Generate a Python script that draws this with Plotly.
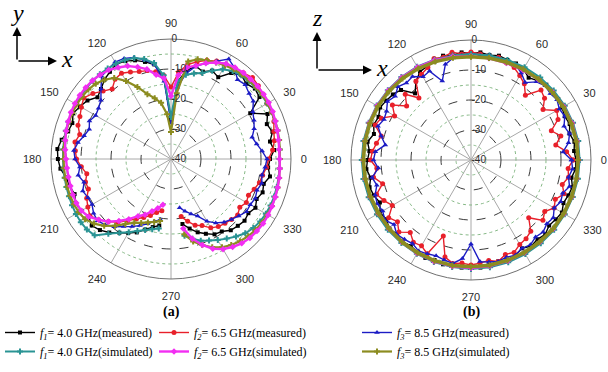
import plotly.graph_objects as go

# ---------------- data ----------------
# chart (a): angles run 280..355 then 0..260 (gap around 270 deg)
THETA_A = list(range(280, 360, 5)) + list(range(0, 265, 5))
# chart (b): measured every 5 deg, simulated every 10 deg (closed loops)
THETA_B = list(range(0, 360, 5))
THETA_B_SIM = list(range(0, 360, 10))

ANGLE_TICKS = [0, 30, 60, 90, 120, 150, 180, 210, 240, 270, 300, 330]
R_TICKS = [-40, -30, -20, -10, 0]
R_MINOR = [-35, -25, -15, -5]

# ---- (a) xy-plane ----
A_F1_MEAS = [-18.0, -16.0, -14.0, -12.5, -11.0, -10.5, -9.0, -8.5, -8.0, -8.5, -7.5, -8.5, -7.5, -8.0, -6.5, -7.5,
             -7.0, -5.5, -6.5, -5.0, -6.0, -4.5, -9.5, -4.0, -3.5, -4.5,
             -3.5, -5.0, -8.5, -7.5, -9.0, -8.0, -10.0, -14.0, -27.0, -13.0,
             -8.0, -6.5, -5.0, -4.0, -3.5, -4.5, -5.5, -7.0, -8.0, -6.0,
             -5.0, -4.0, -5.0, -4.5, -3.0, -2.0, -2.3, -3.0, -4.5, -5.0,
             -5.8, -5.0, -5.5, -6.5, -5.5, -6.5, -8.0, -10.0, -11.5, -13.0,
             -15.0, -16.5, -17.5]
A_F2_MEAS = [-20.5, -18.5, -16.5, -15.5, -13.5, -12.5, -12.0, -11.5, -11.0, -12.0, -11.0, -11.5, -10.5, -9.5, -9.0, -8.0,
             -7.5, -6.0, -5.0, -4.5, -3.5, -3.0, -3.0, -2.5, -2.0, -1.6,
             -2.5, -3.0, -3.5, -4.0, -5.0, -6.5, -8.0, -11.0, -16.0, -12.0,
             -10.5, -9.5, -9.0, -8.0, -7.0, -7.5, -9.5, -8.0, -6.0, -4.5,
             -5.5, -6.5, -7.0, -8.5, -7.5, -8.0, -8.5, -10.0, -11.5, -10.5,
             -10.7, -9.0, -8.0, -7.0, -8.5, -10.5, -12.5, -15.0, -17.0, -18.5,
             -20.0, -21.5, -22.5]
A_F3_MEAS = [-23.5, -22.0, -20.5, -19.0, -16.0, -14.0, -12.5, -11.5, -10.5, -9.3, -9.5, -9.0, -9.5, -8.7, -9.2, -8.5,
             -8.0, -9.5, -11.0, -12.0, -10.5, -9.5, -8.5, -6.5, -6.0, -5.0,
             -5.5, -3.0, -1.5, -4.0, -6.0, -8.0, -11.0, -16.0, -28.0, -14.0,
             -8.0, -5.8, -4.0, -3.0, -2.7, -3.5, -4.0, -7.0, -9.5, -10.5,
             -11.0, -10.0, -11.0, -10.0, -8.5, -7.5, -8.0, -9.5, -8.6, -10.0,
             -8.7, -9.5, -9.6, -8.5, -8.0, -9.0, -10.5, -12.5, -14.0, -15.5,
             -17.0, -18.5, -19.5]
A_F1_SIM = [-14.0, -12.5, -11.0, -10.0, -8.8, -7.6, -6.3, -5.0, -4.2, -3.7, -3.5, -3.4, -3.4, -3.5, -3.6, -3.7,
            -3.8, -3.7, -3.5, -3.3, -3.1, -3.0, -3.0, -3.0, -3.1, -3.3,
            -3.6, -4.2, -5.5, -7.5, -9.5, -10.5, -11.5, -14.0, -26.0, -12.0,
            -7.5, -5.5, -4.2, -3.6, -3.3, -3.2, -3.1, -3.1, -3.2, -3.3,
            -3.4, -3.5, -3.6, -3.7, -3.8, -3.9, -4.0, -4.0, -4.0, -3.9,
            -3.8, -3.6, -3.4, -3.3, -3.4, -4.0, -7.5, -10.0, -11.8, -13.5,
            -14.8, -15.8, -16.5]
A_F2_SIM = [-16.5, -12.5, -9.5, -7.0, -5.3, -4.2, -3.3, -2.8, -2.6, -2.5, -2.6, -2.8, -3.0, -3.2, -3.4, -3.6,
            -3.8, -3.8, -3.6, -3.3, -3.0, -2.6, -2.4, -2.3, -2.3, -2.4,
            -2.5, -2.8, -3.3, -4.5, -6.0, -7.8, -9.0, -12.0, -19.0, -13.0,
            -11.5, -9.0, -7.4, -5.8, -4.8, -3.8, -3.3, -3.0, -2.9, -2.9,
            -3.0, -3.2, -3.5, -3.8, -4.2, -4.6, -5.0, -5.2, -5.3, -5.3,
            -5.2, -5.2, -5.5, -6.5, -8.5, -10.5, -13.0, -15.5, -18.0, -19.5,
            -21.5, -23.0, -24.5]
A_F3_SIM = [-14.5, -11.5, -9.5, -7.5, -6.0, -5.0, -4.2, -3.6, -3.2, -3.0, -2.9, -2.9, -3.0, -3.2, -3.4, -3.6,
            -3.7, -3.6, -3.4, -3.2, -3.0, -2.9, -2.8, -2.8, -2.9, -3.0,
            -3.2, -3.5, -4.0, -4.5, -5.0, -5.6, -7.0, -18.0, -31.0, -25.0,
            -21.0, -19.0, -17.0, -13.5, -10.0, -7.0, -5.5, -4.5, -4.0, -3.8,
            -3.7, -3.7, -3.8, -3.9, -4.0, -4.1, -4.2, -4.2, -4.2, -4.2,
            -4.2, -4.3, -4.5, -5.0, -6.5, -8.5, -11.0, -13.5, -15.5, -16.5,
            -17.5, -18.3, -19.0]

# ---- (b) xz-plane ----
B_F1_MEAS = [-5, -5.5, -5, -6, -5, -5.5, -5, -4.5, -5, -4.5,
             -5.5, -6.5, -5, -4.5, -4.5, -4, -4.5, -4, -4.5, -4,
             -4.5, -4, -5, -5.5, -6, -8, -11, -7, -6, -5.5,
             -5, -6, -5.5, -6.5, -5, -6, -5.5, -5, -6, -5,
             -5.5, -6.5, -5, -5.5, -4.5, -5, -4.5, -5, -4.5, -4,
             -4.5, -4, -4.5, -4, -4.5, -4, -4.5, -5, -4.5, -5,
             -6, -5, -5.5, -5, -6, -5.5, -5, -6, -5.5, -5,
             -6, -5]
B_F2_MEAS = [-6, -8, -11.3, -9, -11.5, -8, -7, -10.7, -8, -7,
             -11.8, -9, -7.5, -6, -5.5, -4.5, -5, -4.5, -4, -4.5,
             -3.5, -4.5, -4, -6, -7, -8, -13, -9, -12, -8,
             -10.6, -7, -6, -9, -8, -7, -6.5, -8.5, -7, -9.5,
             -6.5, -8, -9.7, -6.5, -8, -6, -8.5, -6.5, -7, -5.5,
             -13, -6.5, -5, -5.5, -5, -5.5, -6, -5, -6.5, -6,
             -7.5, -8, -9, -12.8, -8.7, -10, -8, -9, -7, -8.5,
             -7, -7.5]
B_F3_MEAS = [-6.5, -9.2, -7, -6, -7, -5.5, -6, -5, -5.5, -5,
             -6, -8.5, -6.5, -5, -5.5, -5, -4.5, -5, -4.5, -5,
             -5.5, -7, -12, -7.3, -8, -6, -6.5, -5.5, -7, -6,
             -7.5, -8, -7, -9, -11, -8, -7.5, -9, -6.5, -7.5,
             -6, -5.5, -6, -5, -6.5, -5, -5.5, -6, -5, -5.5,
             -6, -5.5, -5, -7, -12, -6, -5.5, -5, -5.5, -5,
             -6, -5.5, -6.5, -6, -7, -6.5, -8, -7, -7.5, -6,
             -7, -6]
B_F1_SIM = [-3.8, -3.7, -3.8, -3.9, -4.0, -4.1, -4.3, -4.5, -4.6, -4.7,
            -4.6, -4.4, -4.1, -3.9, -3.8, -3.7, -3.7, -3.6, -3.6, -3.6,
            -3.7, -3.8, -3.8, -3.9, -3.9, -3.8, -3.8, -3.7, -3.7, -3.7,
            -3.8, -3.8, -3.8, -3.9, -3.9, -3.8]
B_F2_SIM = [-4.2, -4.1, -4.1, -4.3, -4.6, -5.0, -5.4, -5.6, -5.6, -5.4,
            -5.0, -4.6, -4.3, -4.1, -4.0, -3.9, -3.9, -4.0, -4.0, -4.1,
            -4.2, -4.3, -4.3, -4.2, -4.1, -4.0, -4.0, -4.0, -4.1, -4.2,
            -4.3, -4.3, -4.2, -4.2, -4.2, -4.2]
B_F3_SIM = [-4.3, -4.3, -4.4, -4.5, -4.7, -4.9, -5.1, -5.3, -5.5, -5.6,
            -5.4, -5.1, -4.8, -4.5, -4.3, -4.2, -4.1, -4.1, -4.1, -4.2,
            -4.3, -4.4, -4.4, -4.3, -4.3, -4.3, -4.3, -4.4, -4.4, -4.4,
            -4.4, -4.4, -4.3, -4.3, -4.3, -4.3]

NAMES = {
    "f1m": "<i>f</i><sub><i>1</i></sub>= 4.0 GHz(measured)",
    "f2m": "<i>f</i><sub><i>2</i></sub>= 6.5 GHz(measured)",
    "f3m": "<i>f</i><sub><i>3</i></sub>= 8.5 GHz(measured)",
    "f1s": "<i>f</i><sub><i>1</i></sub>= 4.0 GHz(simulated)",
    "f2s": "<i>f</i><sub><i>2</i></sub>= 6.5 GHz(simulated)",
    "f3s": "<i>f</i><sub><i>3</i></sub>= 8.5 GHz(simulated)",
}

# ---------------- styles ----------------
STYLE = {
    "f1m": dict(color="#000000", symbol="square", size=4, width=1.4, legend="legend"),
    "f2m": dict(color="#e8202a", symbol="circle", size=5, width=1.4, legend="legend2"),
    "f3m": dict(color="#1c1cc4", symbol="triangle-up", size=5, width=1.4, legend="legend3"),
    "f1s": dict(color="#2a9494", symbol="cross", size=5, width=2.0, legend="legend"),
    "f3s": dict(color="#8c8c20", symbol="cross", size=5, width=2.2, legend="legend3"),
    "f2s": dict(color="#f22ef2", symbol="diamond", size=5, width=2.4, legend="legend2"),
}

fig = go.Figure()

# light dotted intermediate grid circles
GRID_THETA = list(range(0, 361, 3))
for sub in ["polar", "polar2"]:
    for lev in R_MINOR:
        fig.add_trace(go.Scatterpolar(r=[lev] * len(GRID_THETA), theta=GRID_THETA, mode="lines",
                                      line=dict(color="#86b886", width=1, dash="dot"),
                                      hoverinfo="skip", showlegend=False, subplot=sub))

A_DATA = {"f1m": A_F1_MEAS, "f2m": A_F2_MEAS, "f3m": A_F3_MEAS,
          "f1s": A_F1_SIM, "f3s": A_F3_SIM, "f2s": A_F2_SIM}
B_DATA = {"f1m": B_F1_MEAS, "f2m": B_F2_MEAS, "f3m": B_F3_MEAS,
          "f1s": B_F1_SIM, "f2s": B_F2_SIM, "f3s": B_F3_SIM}

for key in ["f1m", "f2m", "f3m", "f1s", "f3s", "f2s"]:
    s = STYLE[key]
    fig.add_trace(go.Scatterpolar(
        r=A_DATA[key], theta=THETA_A, mode="lines+markers", name=NAMES[key],
        line=dict(color=s["color"], width=s["width"]),
        marker=dict(symbol=s["symbol"], size=s["size"], color=s["color"]),
        subplot="polar", legend=s["legend"], showlegend=True))

for key in ["f1m", "f2m", "f3m", "f1s", "f2s", "f3s"]:
    s = STYLE[key]
    if key.endswith("m"):
        th = THETA_B + [THETA_B[0]]
    else:
        th = THETA_B_SIM + [THETA_B_SIM[0]]
    r = B_DATA[key] + [B_DATA[key][0]]
    w = 3.6 if key == "f3s" else s["width"]
    fig.add_trace(go.Scatterpolar(
        r=r, theta=th, mode="lines+markers", name=NAMES[key],
        line=dict(color=s["color"], width=w),
        marker=dict(symbol=s["symbol"], size=s["size"], color=s["color"]),
        subplot="polar2", legend=s["legend"], showlegend=False))


def polar_cfg(dx, dy):
    return dict(
        domain=dict(x=dx, y=dy),
        bgcolor="white",
        angularaxis=dict(direction="counterclockwise", rotation=0,
                         tickmode="array", tickvals=ANGLE_TICKS,
                         ticktext=[str(a) for a in ANGLE_TICKS],
                         showgrid=True, gridcolor="#a8a8a8", gridwidth=0.8,
                         showline=True, linecolor="#707070", linewidth=1,
                         ticks="outside", ticklen=7, tickcolor="rgba(0,0,0,0)",
                         tickfont=dict(family="Liberation Sans", size=11, color="#2a2a2a")),
        radialaxis=dict(range=[-40, 0], tickmode="array", tickvals=R_TICKS,
                        ticktext=[str(v) for v in R_TICKS], angle=90, tickangle=90,
                        showline=False, showgrid=True, gridcolor="#3a3a3a", gridwidth=1,
                        griddash="dash", ticks="",
                        tickfont=dict(family="Liberation Sans", size=10, color="#2a2a2a")),
    )


W, H = 608, 372
fig.update_layout(
    width=W, height=H,
    margin=dict(l=0, r=0, t=0, b=0),
    paper_bgcolor="white",
    plot_bgcolor="white",
    polar=polar_cfg([51 / W, 291 / W], [1 - 279 / H, 1 - 39 / H]),
    polar2=polar_cfg([351 / W, 591 / W], [1 - 280 / H, 1 - 40 / H]),
    showlegend=True,
)

leg_common = dict(orientation="v", yanchor="top", xanchor="left", y=1 - 318 / H,
                  bgcolor="rgba(0,0,0,0)", itemwidth=30, tracegroupgap=0,
                  font=dict(family="Liberation Serif", size=12, color="#000000"))
fig.update_layout(
    legend=dict(x=0 / W, **leg_common),
    legend2=dict(x=154 / W, **leg_common),
    legend3=dict(x=357 / W, **leg_common),
)

ann = []
# panel labels
for cx, lab in [(171, "(a)"), (471, "(b)")]:
    ann.append(dict(x=cx / W, y=1 - 312 / H, xref="paper", yref="paper", text="<b>" + lab + "</b>",
                    xanchor="center", yanchor="middle",
                    showarrow=False, font=dict(family="Liberation Serif", size=14, color="#000")))


def axes_glyph(ox, oy, up_label, up_len, right_len):
    out = []
    # vertical arrow
    out.append(dict(x=ox / W, y=1 - (oy - up_len) / H, xref="paper", yref="paper",
                    ax=0, ay=up_len, text="", showarrow=True, arrowhead=2,
                    arrowsize=1.2, arrowwidth=1.5, arrowcolor="#000"))
    # horizontal arrow
    out.append(dict(x=(ox + right_len) / W, y=1 - oy / H, xref="paper", yref="paper",
                    ax=-right_len, ay=0, text="", showarrow=True, arrowhead=2,
                    arrowsize=1.2, arrowwidth=1.5, arrowcolor="#000"))
    out.append(dict(x=ox / W, y=1 - (oy - up_len - 14) / H, xref="paper", yref="paper",
                    xanchor="center", yanchor="middle",
                    text="<i>" + up_label + "</i>", showarrow=False,
                    font=dict(family="Liberation Serif", size=24, color="#000")))
    out.append(dict(x=(ox + right_len + 10) / W, y=1 - (oy - 2) / H, xref="paper", yref="paper",
                    xanchor="center", yanchor="middle",
                    text="<i>x</i>", showarrow=False,
                    font=dict(family="Liberation Serif", size=24, color="#000")))
    return out


ann += axes_glyph(17, 61, "y", 34, 40)
ann += axes_glyph(317, 70, "z", 38, 55)
fig.update_layout(annotations=ann)

fig.write_html("out.html")
